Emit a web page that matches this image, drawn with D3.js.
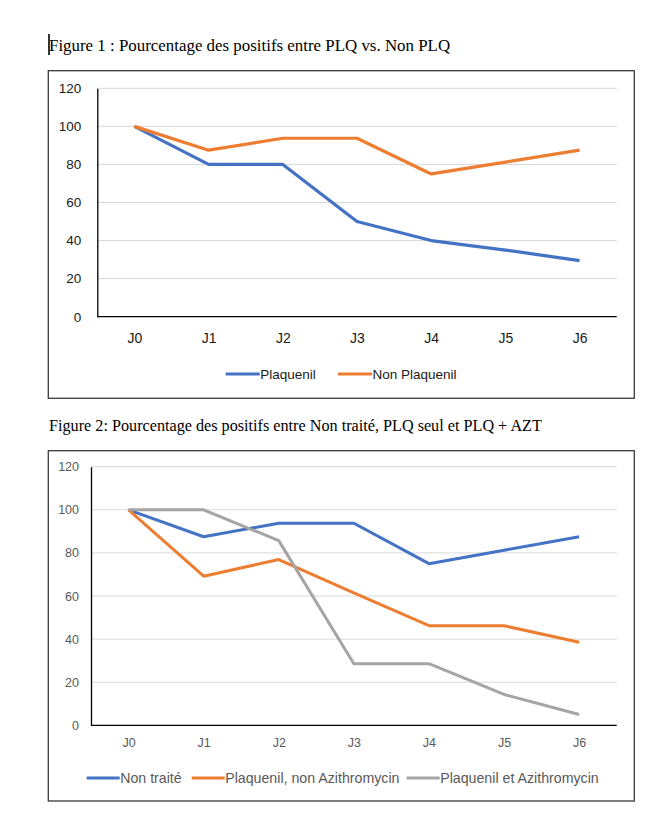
<!DOCTYPE html>
<html><head><meta charset="utf-8">
<script src="https://cdn.jsdelivr.net/npm/d3@7"></script>
<style>body{margin:0;background:#fff}svg{display:block}</style>
</head><body>
<svg id="c" width="671" height="828"></svg>
<script>
const days = ["J0","J1","J2","J3","J4","J5","J6"];
const yTicks = [0,20,40,60,80,100,120];
// Figure 1
const fig1Title = "Figure 1 : Pourcentage des positifs entre PLQ vs. Non PLQ";
const fig1Names = ["Plaquenil","Non Plaquenil"];
const plaquenil = [100,80,80,50,40,35,29.5];
const nonPlaquenil = [100,87.5,93.75,93.75,75,81.25,87.5];
// Figure 2
const fig2Title = "Figure 2: Pourcentage des positifs entre Non traité, PLQ seul et PLQ + AZT";
const fig2Names = ["Non traité","Plaquenil, non Azithromycin","Plaquenil et Azithromycin"];
const nonTraite = [100,87.5,93.75,93.75,75,81.25,87.5];
const plqSeul = [100,69.2,76.9,61.5,46.2,46.2,38.5];
const plqAzt = [100,100,85.7,28.6,28.6,14.3,5];
const colors = ["#4472C4","#ED7D31","#A5A5A5"];

const svg = d3.select("#c");

// cursor artifact
svg.append("line").attr("x1",49).attr("x2",49).attr("y1",34).attr("y2",55)
  .attr("stroke","#000").attr("stroke-width",1.6);

function chart(o){
  const g = svg.append("g");
  g.append("text").attr("x",o.titleX).attr("y",o.titleY)
    .attr("font-family","Liberation Serif, Times New Roman, serif")
    .attr("font-size",o.titleSize).attr("fill","#000").text(o.title);
  g.append("rect").attr("x",o.box[0]).attr("y",o.box[1]).attr("width",o.box[2]-o.box[0])
    .attr("height",o.box[3]-o.box[1]).attr("fill","#fff").attr("stroke","#3a3a3a").attr("stroke-width",1.3);
  const x = d3.scalePoint().domain(days).range([o.left,o.right]).padding(0.5);
  const y = d3.scaleLinear().domain([0,120]).range([o.bottom,o.top]);
  // grid
  g.append("g").selectAll("line").data(yTicks.filter(d=>d>0)).join("line")
    .attr("x1",o.left).attr("x2",o.right).attr("y1",d=>y(d)).attr("y2",d=>y(d))
    .attr("stroke","#d9d9d9").attr("stroke-width",1);
  // y axis
  const ya = g.append("g").attr("transform",`translate(${o.left},0)`)
    .call(d3.axisLeft(y).tickValues(yTicks).tickSize(0).tickPadding(o.yPad));
  ya.select(".domain").attr("stroke","#000").attr("stroke-width",1.3);
  ya.selectAll("text").attr("font-family","Liberation Sans, Arial, sans-serif")
    .attr("font-size",o.yFont).attr("fill",o.labelColor);
  // x axis
  const xa = g.append("g").attr("transform",`translate(0,${o.bottom})`)
    .call(d3.axisBottom(x).tickSize(0).tickPadding(o.xPad));
  xa.select(".domain").attr("stroke","#000").attr("stroke-width",1.3).attr("d",`M${o.left},0H${o.right}`);
  xa.selectAll("text").attr("font-family","Liberation Sans, Arial, sans-serif")
    .attr("font-size",o.xFont).attr("fill",o.labelColor);
  // lines
  const line = d3.line().x((d,i)=>x(days[i])).y(d=>y(d));
  o.series.forEach((s,i)=>{
    g.append("path").datum(s).attr("d",line).attr("fill","none")
      .attr("stroke",colors[i]).attr("stroke-width",o.lw).attr("stroke-linejoin","round");
  });
  // legend
  o.legend.forEach((L,i)=>{
    g.append("line").attr("x1",L[0]).attr("x2",L[0]+o.legLen).attr("y1",o.legY).attr("y2",o.legY)
      .attr("stroke",colors[i]).attr("stroke-width",o.lw);
    g.append("text").attr("x",L[0]+o.legLen+0.5).attr("y",o.legY).attr("dy","0.35em")
      .attr("font-family","Liberation Sans, Arial, sans-serif").attr("font-size",o.legFont)
      .attr("fill",o.labelColor).text(o.names[i]);
  });
}

chart({title:fig1Title, titleX:49, titleY:51, titleSize:16.9,
  box:[48.3,70.7,634.3,398.3], left:97.3, right:616.7, top:88.3, bottom:316.7,
  yPad:16, xPad:16, yFont:13.5, xFont:14, labelColor:"#1a1a1a", lw:3.2,
  series:[plaquenil,nonPlaquenil], names:fig1Names,
  legend:[[225.7],[338]], legLen:34, legY:374, legFont:13.5});

chart({title:fig2Title, titleX:49, titleY:430.5, titleSize:16.2,
  box:[48.3,450.7,634.3,801], left:91, right:616.7, top:466.7, bottom:725.3,
  yPad:12, xPad:13, yFont:12.5, xFont:12.5, labelColor:"#595959", lw:3,
  series:[nonTraite,plqSeul,plqAzt], names:fig2Names,
  legend:[[86.7],[191.7],[406.7]], legLen:33, legY:778, legFont:14.2});
</script>
</body></html>
